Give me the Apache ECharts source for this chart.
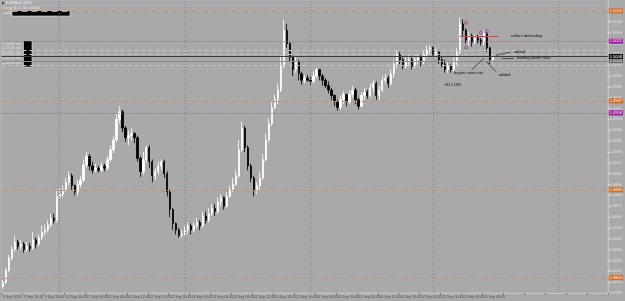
<!DOCTYPE html>
<html><head><meta charset="utf-8">
<script src="https://cdn.jsdelivr.net/npm/echarts@6/dist/echarts.min.js"></script>
<style>html,body{margin:0;padding:0;background:#a9a9a9;}#c{width:625px;height:301px;}</style>
</head><body><div id="c"></div>
<script>
const opens = [1.4796,1.4800,1.4811,1.4822,1.4830,1.4837,1.4833,1.4835,1.4830,1.4833,
1.4831,1.4839,1.4835,1.4841,1.4846,1.4848,1.4853,1.4859,1.4857,1.4879,
1.4881,1.4885,1.4892,1.4898,1.4889,1.4883,1.4890,1.4894,1.4908,1.4916,
1.4907,1.4903,1.4905,1.4903,1.4907,1.4905,1.4913,1.4922,1.4931,1.4950,
1.4957,1.4942,1.4933,1.4935,1.4937,1.4933,1.4914,1.4902,1.4913,1.4924,
1.4911,1.4898,1.4902,1.4907,1.4911,1.4900,1.4883,1.4867,1.4854,1.4848,
1.4843,1.4844,1.4848,1.4852,1.4848,1.4852,1.4855,1.4852,1.4861,1.4857,
1.4863,1.4868,1.4865,1.4874,1.4878,1.4870,1.4879,1.4885,1.4890,1.4898,
1.4922,1.4942,1.4924,1.4907,1.4896,1.4885,1.4889,1.4896,1.4913,1.4931,
1.4946,1.4961,1.4968,1.4977,1.4999,1.5032,1.5020,1.5007,1.4996,1.5003,
1.4992,1.4986,1.4988,1.4986,1.4985,1.4990,1.4996,1.4990,1.4986,1.4981,
1.4977,1.4972,1.4966,1.4961,1.4968,1.4973,1.4966,1.4973,1.4977,1.4968,
1.4962,1.4972,1.4975,1.4972,1.4979,1.4983,1.4972,1.4977,1.4986,1.4988,
1.4983,1.4992,1.5001,1.5010,1.5005,1.4999,1.5003,1.5005,1.4999,1.5005,
1.5007,1.5003,1.5010,1.5014,1.5016,1.5010,1.5012,1.5005,1.5001,1.4996,
1.4999,1.4996,1.5003,1.5012,1.5038,1.5032,1.5023,1.5027,1.5021,1.5025,
1.5023,1.5021,1.5029,1.5016,1.5005];
const closes = [1.4800,1.4811,1.4822,1.4830,1.4837,1.4833,1.4835,1.4830,1.4833,1.4831,
1.4839,1.4835,1.4841,1.4846,1.4848,1.4853,1.4859,1.4857,1.4879,1.4881,
1.4885,1.4892,1.4898,1.4889,1.4883,1.4890,1.4894,1.4908,1.4916,1.4907,
1.4903,1.4905,1.4903,1.4907,1.4905,1.4913,1.4922,1.4931,1.4950,1.4957,
1.4942,1.4933,1.4935,1.4937,1.4933,1.4914,1.4902,1.4913,1.4924,1.4911,
1.4898,1.4902,1.4907,1.4911,1.4900,1.4883,1.4867,1.4854,1.4848,1.4843,
1.4844,1.4848,1.4852,1.4848,1.4852,1.4855,1.4852,1.4861,1.4857,1.4863,
1.4868,1.4865,1.4874,1.4878,1.4870,1.4879,1.4885,1.4890,1.4898,1.4922,
1.4942,1.4924,1.4907,1.4896,1.4885,1.4889,1.4896,1.4913,1.4931,1.4946,
1.4961,1.4968,1.4977,1.4999,1.5032,1.5020,1.5007,1.4996,1.5003,1.4992,
1.4986,1.4988,1.4986,1.4985,1.4990,1.4996,1.4990,1.4986,1.4981,1.4977,
1.4972,1.4966,1.4961,1.4968,1.4973,1.4966,1.4973,1.4977,1.4968,1.4962,
1.4972,1.4975,1.4972,1.4979,1.4983,1.4972,1.4977,1.4986,1.4988,1.4983,
1.4992,1.5001,1.5010,1.5005,1.4999,1.5003,1.5005,1.4999,1.5005,1.5007,
1.5003,1.5010,1.5014,1.5016,1.5010,1.5012,1.5005,1.5001,1.4996,1.4999,
1.4996,1.5003,1.5012,1.5038,1.5032,1.5023,1.5027,1.5021,1.5025,1.5023,
1.5021,1.5029,1.5016,1.5005,1.5008];
const lows = [1.4794,1.4798,1.4809,1.4820,1.4828,1.4830,1.4830,1.4827,1.4828,1.4828,
1.4830,1.4831,1.4833,1.4839,1.4843,1.4846,1.4850,1.4854,1.4855,1.4876,
1.4878,1.4883,1.4889,1.4885,1.4880,1.4880,1.4887,1.4892,1.4905,1.4903,
1.4900,1.4901,1.4901,1.4902,1.4902,1.4903,1.4911,1.4919,1.4929,1.4946,
1.4938,1.4929,1.4926,1.4931,1.4928,1.4911,1.4897,1.4899,1.4910,1.4905,
1.4892,1.4894,1.4899,1.4903,1.4896,1.4879,1.4860,1.4848,1.4844,1.4841,
1.4841,1.4843,1.4845,1.4844,1.4846,1.4850,1.4848,1.4850,1.4854,1.4855,
1.4861,1.4861,1.4863,1.4870,1.4867,1.4868,1.4878,1.4883,1.4889,1.4896,
1.4920,1.4920,1.4903,1.4892,1.4879,1.4881,1.4885,1.4894,1.4911,1.4929,
1.4944,1.4959,1.4964,1.4975,1.4997,1.5016,1.5003,1.4990,1.4993,1.4986,
1.4982,1.4983,1.4985,1.4982,1.4983,1.4988,1.4986,1.4981,1.4979,1.4974,
1.4968,1.4962,1.4958,1.4959,1.4964,1.4962,1.4964,1.4970,1.4964,1.4959,
1.4961,1.4968,1.4969,1.4970,1.4975,1.4968,1.4968,1.4975,1.4983,1.4979,
1.4981,1.4988,1.4997,1.5001,1.4996,1.4997,1.4999,1.4996,1.4997,1.5001,
1.4999,1.5001,1.5007,1.5010,1.5008,1.5007,1.5001,1.4998,1.4993,1.4993,
1.4993,1.4994,1.4999,1.5010,1.5027,1.5020,1.5018,1.5017,1.5019,1.5020,
1.5018,1.5018,1.5012,1.5001,1.5002];
const highs = [1.4802,1.4813,1.4825,1.4833,1.4843,1.4839,1.4839,1.4837,1.4837,1.4836,
1.4846,1.4841,1.4844,1.4852,1.4853,1.4857,1.4863,1.4863,1.4885,1.4887,
1.4889,1.4896,1.4902,1.4900,1.4890,1.4894,1.4898,1.4913,1.4920,1.4918,
1.4911,1.4909,1.4907,1.4910,1.4909,1.4916,1.4926,1.4935,1.4955,1.4962,
1.4959,1.4944,1.4940,1.4942,1.4938,1.4935,1.4916,1.4920,1.4926,1.4926,
1.4913,1.4905,1.4911,1.4913,1.4913,1.4902,1.4885,1.4868,1.4855,1.4850,
1.4848,1.4852,1.4855,1.4854,1.4855,1.4859,1.4857,1.4865,1.4865,1.4868,
1.4872,1.4872,1.4878,1.4881,1.4879,1.4883,1.4889,1.4896,1.4903,1.4931,
1.4948,1.4944,1.4926,1.4909,1.4898,1.4892,1.4902,1.4918,1.4937,1.4951,
1.4966,1.4973,1.4983,1.5009,1.5042,1.5038,1.5021,1.5009,1.5008,1.5005,
1.4994,1.4991,1.4991,1.4989,1.4994,1.4997,1.4996,1.4992,1.4988,1.4985,
1.4979,1.4973,1.4968,1.4972,1.4976,1.4973,1.4977,1.4981,1.4979,1.4970,
1.4975,1.4979,1.4977,1.4983,1.4986,1.4985,1.4981,1.4990,1.4992,1.4990,
1.4996,1.5005,1.5014,1.5012,1.5007,1.5007,1.5009,1.5007,1.5009,1.5010,
1.5009,1.5014,1.5018,1.5018,1.5017,1.5016,1.5014,1.5008,1.5005,1.5003,
1.5001,1.5007,1.5016,1.5044,1.5042,1.5034,1.5031,1.5029,1.5028,1.5028,
1.5025,1.5032,1.5030,1.5017,1.5009];

const xTickLabels = ["9 Sep 2016","9 Sep 16:45","9 Sep 20:45","12 Sep 00:45","12 Sep 04:45","12 Sep 08:45","12 Sep 12:45","12 Sep 16:45","12 Sep 20:45","13 Sep 00:45","13 Sep 04:45","13 Sep 08:45","13 Sep 12:45","13 Sep 16:45","13 Sep 20:45","14 Sep 00:45","14 Sep 04:45","14 Sep 08:45","14 Sep 12:45","14 Sep 16:45","14 Sep 20:45","15 Sep 00:45","15 Sep 04:45","15 Sep 08:45"];
const labelEvery = 7;
const totalSlots = 203;
const daySeparators = [19, 61, 103, 144, 186];
const pivotLevels = [1.5050, 1.4967, 1.4885, 1.4804];
const purpleLevels = [1.5022, 1.4956];
const orderLevels = [1.5014, 1.5010, 1.5000];
const bidPrice = 1.5008;
const grayPrice = 1.5004;
const yMin = 1.4790, yMax = 1.5060, yStep = 0.0010;

const annotationTexts = [
  {text: "sellers defending", cat: 170, price: 1.5027},
  {text: "added", cat: 171, price: 1.5012},
  {text: "trading under now", cat: 172, price: 1.5007},
  {text: "buyers over-run", cat: 151, price: 1.4993},
  {text: "added", cat: 166, price: 1.4991},
  {text: "H1 LOW", cat: 148, price: 1.4982}
];
const annotationLines = [
  [165, 1.5009, 170, 1.5012],
  [167, 1.5006, 171, 1.5006],
  [157, 1.4996, 161, 1.5006],
  [162, 1.5003, 165, 1.4994]
];
const redLine = [153, 166, 1.5027];
const purpleMarks = [[155, 1.5039], [155, 1.5016], [160, 1.5030], [162, 1.5031]];
const orderTexts = ["1.50261 sell", "1.50145 sell", "1.50102 sell", "1.50078 sell", "1.50004 sell"];

const categories = Array.from({length: totalSlots}, (_, i) => String(i));
const candleData = opens.map((o, i) => [o, closes[i], lows[i], highs[i]]);

const hLine = (v, color, type, labelBg, labelColor) => ({
  yAxis: v,
  lineStyle: {color: color, type: type, width: 1},
  label: labelBg ? {show: true, position: 'end', distance: 1, formatter: () => v.toFixed(4),
    backgroundColor: labelBg, color: labelColor, fontSize: 4, padding: [1, 1, 0, 1],
    fontFamily: 'Liberation Sans'} : {show: false}
});

const markLineData = [];
pivotLevels.forEach(v => markLineData.push(hLine(v, '#c8906e', [6, 4], '#d2691e', '#fff')));
purpleLevels.forEach(v => markLineData.push(hLine(v, '#9a4f9a', [1, 2], '#a01aa0', '#fff')));
orderLevels.forEach(v => markLineData.push(hLine(v, '#c6c6c6', [4, 3], null)));
markLineData.push(hLine(grayPrice, '#8a8a8a', 'solid', '#6e6e6e', '#ddd'));
markLineData.push(hLine(bidPrice, '#3a3a3a', 'solid', '#111', '#fff'));
daySeparators.forEach(c => markLineData.push({xAxis: String(c), lineStyle: {color: '#7c7c7c', type: [1, 2], width: 1}, label: {show: false}}));
markLineData.push([{coord: [String(redLine[0]), redLine[2]]}, {coord: [String(redLine[1]), redLine[2]], lineStyle: {color: '#e63a55', type: 'solid', width: 1}}]);
annotationLines.forEach(l => markLineData.push([{coord: [String(l[0]), l[1]]}, {coord: [String(l[2]), l[3]], lineStyle: {color: '#222', type: 'solid', width: 0.7}}]));

const markPointData = annotationTexts.map(a => ({
  coord: [String(a.cat), a.price], symbol: 'circle', symbolSize: 0,
  label: {show: true, formatter: a.text, position: 'right', distance: 0, color: '#111', fontSize: 4.2, fontFamily: 'Liberation Sans'}
}));
purpleMarks.forEach(p => markPointData.push({
  coord: [String(p[0]), p[1]], symbol: 'circle', symbolSize: 3,
  itemStyle: {color: 'rgba(0,0,0,0)', borderColor: '#a030a0', borderWidth: 0.8}, label: {show: false}
}));

const chart = echarts.init(document.getElementById('c'), null, {renderer: 'canvas'});
const graphics = [
  {type: 'polygon', shape: {points: [[2, 1.5], [4.5, 3], [2, 4.5]]}, style: {fill: '#333'}},
  {type: 'text', left: 6, top: 1, style: {text: 'EURAUD,M30', fontSize: 4, fill: '#eee', fontFamily: 'Liberation Sans'}},
  {type: 'text', left: 3, top: 6, style: {text: 'Long: 0, 0, 00, 00.00', fontSize: 4, fill: '#eee', fontFamily: 'Liberation Sans'}},
  {type: 'text', left: 3, top: 11, style: {text: 'OSD:', fontSize: 4, fill: '#eee', fontFamily: 'Liberation Sans'}},
  {type: 'rect', shape: {x: 12, y: 10.5, width: 58, height: 5.5}, style: {fill: '#000', stroke: '#eee', lineWidth: 0.6}},
  {type: 'rect', shape: {x: 23.5, y: 40.5, width: 8.5, height: 26.5}, style: {fill: '#000', stroke: '#eee', lineWidth: 0.6}}
];
orderTexts.forEach((t, i) => graphics.push({type: 'text', left: 2, top: 41.5 + i * 4.9, style: {text: t, fontSize: 3.6, fill: '#e6e6e6', fontFamily: 'Liberation Sans'}}));

chart.setOption({
  animation: false,
  backgroundColor: '#a9a9a9',
  grid: {left: 1, right: 14, top: 0, bottom: 8, show: true, borderColor: '#bdbdbd', borderWidth: 0.8, backgroundColor: 'transparent'},
  xAxis: {
    type: 'category', data: categories, boundaryGap: true,
    axisLine: {show: true, lineStyle: {color: '#c4c4c4', width: 1}},
    axisTick: {show: true, interval: labelEvery - 1, length: 2, lineStyle: {color: '#777'}},
    axisLabel: {show: true, interval: labelEvery - 1, fontSize: 3.6, color: '#555', margin: 2, align: 'left',
      fontFamily: 'Liberation Sans',
      formatter: (v, idx) => (idx % labelEvery === 0 && xTickLabels[idx / labelEvery]) ? xTickLabels[idx / labelEvery] : ''},
    splitLine: {show: false}
  },
  yAxis: {
    type: 'value', position: 'right', min: yMin, max: yMax, interval: yStep, scale: true,
    axisLine: {show: true, lineStyle: {color: '#c4c4c4', width: 1}},
    axisTick: {show: true, length: 2, lineStyle: {color: '#ddd'}},
    axisLabel: {fontSize: 4, color: '#e2e2e2', margin: 2, showMaxLabel: false, fontFamily: 'Liberation Sans',
      formatter: v => v.toFixed(4)},
    splitLine: {show: false}
  },
  graphic: graphics,
  series: [{
    type: 'candlestick', data: candleData, barWidth: 1.8,
    itemStyle: {color: '#ffffff', color0: '#000000', borderColor: '#ffffff', borderColor0: '#000000', borderWidth: 0.8},
    markLine: {silent: true, symbol: ['none', 'none'], animation: false, precision: 5, data: markLineData},
    markPoint: {silent: true, animation: false, data: markPointData}
  }]
});
</script></body></html>
